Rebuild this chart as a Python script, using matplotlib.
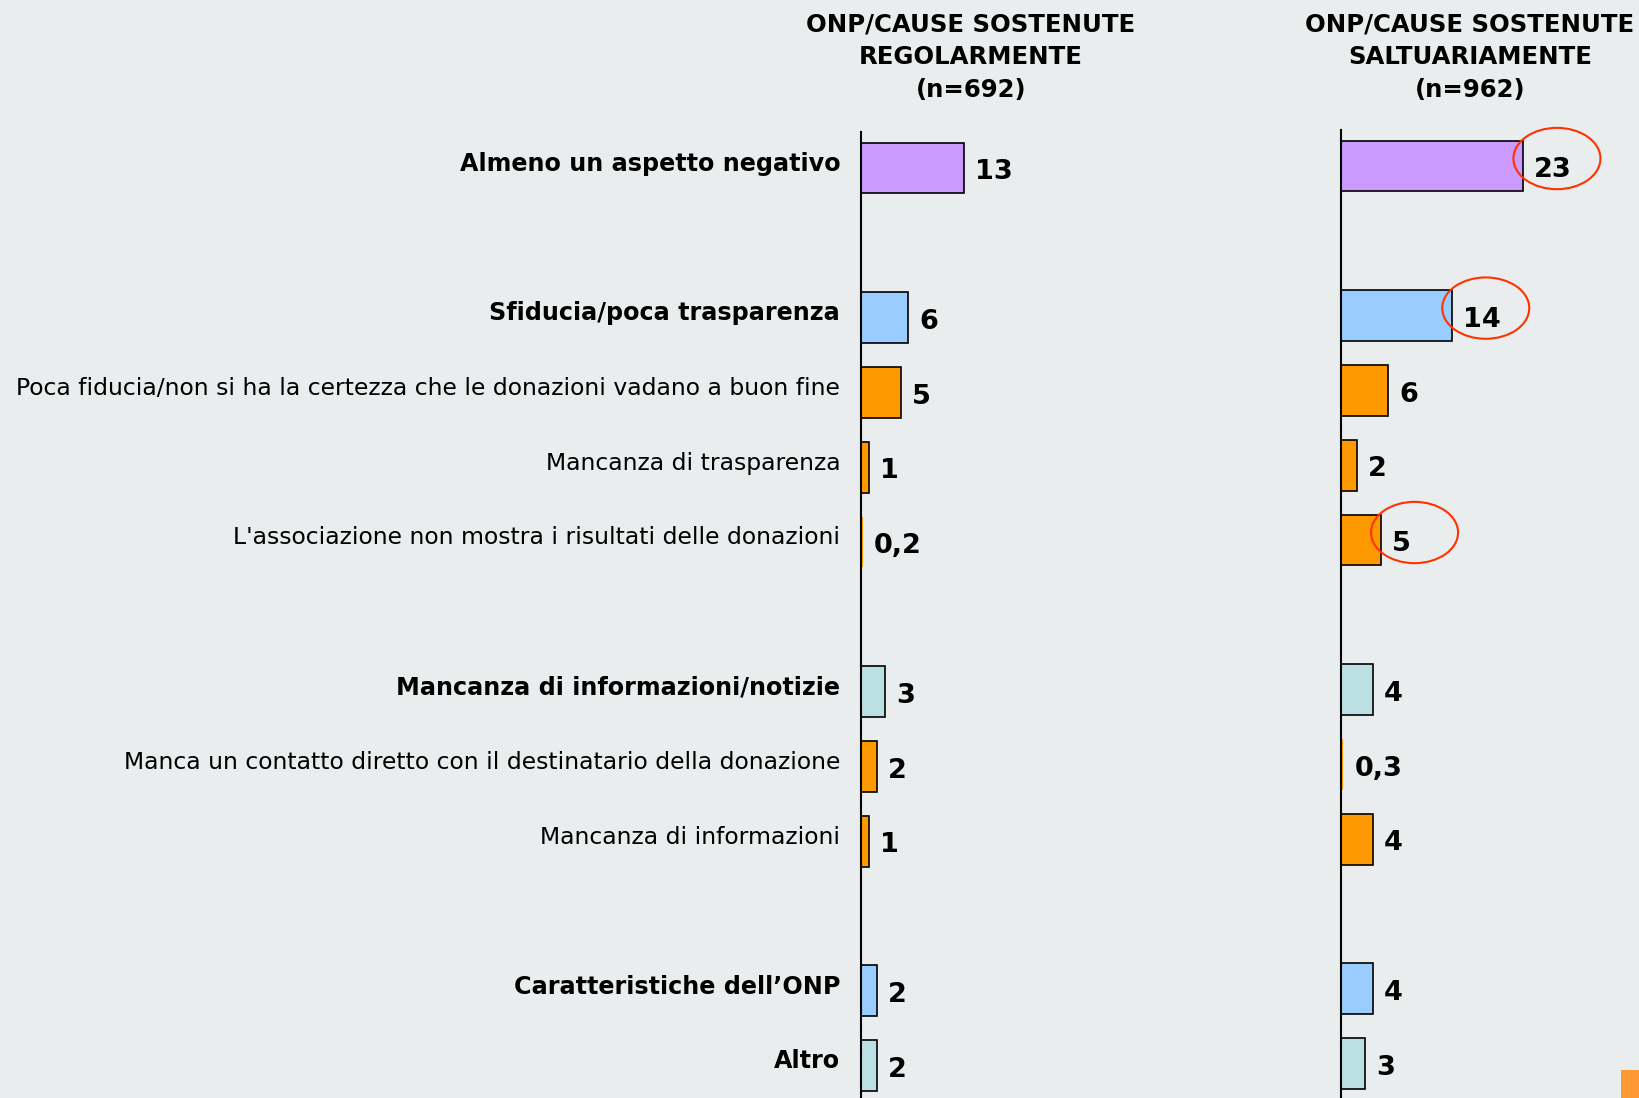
import matplotlib
matplotlib.use("Agg")
import matplotlib.pyplot as plt
from matplotlib.patches import Ellipse, Rectangle

plt.rcParams['font.family'] = ['DejaVu Sans']

# ---------------- data ----------------
categories = [
    "Almeno un aspetto negativo",
    "Sfiducia/poca trasparenza",
    "Poca fiducia/non si ha la certezza che le donazioni vadano a buon fine",
    "Mancanza di trasparenza",
    "L'associazione non mostra i risultati delle donazioni",
    "Mancanza di informazioni/notizie",
    "Manca un contatto diretto con il destinatario della donazione",
    "Mancanza di informazioni",
    "Caratteristiche dell\u2019ONP",
    "Altro",
]
bold_labels = [True, True, False, False, False, True, False, False, True, True]
regolarmente = [13, 6, 5, 1, 0.2, 3, 2, 1, 2, 2]
saltuariamente = [23, 14, 6, 2, 5, 4, 0.3, 4, 4, 3]
title_left = ["ONP/CAUSE SOSTENUTE", "REGOLARMENTE", "(n=692)"]
title_right = ["ONP/CAUSE SOSTENUTE", "SALTUARIAMENTE", "(n=962)"]
highlighted_right = [0, 1, 4]  # circled values in the right panel

# row positions (gaps between groups)
rows = [0, 2, 3, 4, 5, 7, 8, 9, 11, 12]

PURPLE = "#CC99FF"
LBLUE = "#99CCFF"
ORANGE = "#FF9900"
TEAL = "#BBE0E3"
bar_colors = [PURPLE, LBLUE, ORANGE, ORANGE, ORANGE, TEAL, ORANGE, ORANGE, LBLUE, TEAL]

BG = "#E9EDEE"

# ---------------- layout ----------------
W, H = 1640, 1098
fig = plt.figure(figsize=(W / 100, H / 100), dpi=100, facecolor=BG)

px_per_unit = 7.91
row_px = 74.8


def make_axes(x_px, top_px, row0_px, width_px):
    xmax = width_px / px_per_unit
    ax = fig.add_axes([x_px / W, 0, width_px / W, (H - top_px) / H])
    ax.set_facecolor("none")
    ax.set_xlim(0, xmax)
    ytop = (top_px - row0_px) / row_px
    ybot = (H - row0_px) / row_px
    ax.set_ylim(ybot, ytop)
    for s in ["top", "right", "bottom"]:
        ax.spines[s].set_visible(False)
    ax.spines["left"].set_linewidth(1.5)
    ax.spines["left"].set_zorder(5)
    ax.set_xticks([])
    ax.set_yticks([])
    return ax


def fmt(v):
    if float(v).is_integer():
        return str(int(v))
    return str(v).replace(".", ",")


ax1 = make_axes(861, 132, 168, 250)
ax2 = make_axes(1341, 130, 166, W - 1341)

for ax, vals in [(ax1, regolarmente), (ax2, saltuariamente)]:
    edge_w = [1.2 if v >= 0.5 else 0 for v in vals]
    ax.barh(rows, vals, height=0.68, color=bar_colors, edgecolor="black",
            linewidth=edge_w, zorder=3)
    for r, v in zip(rows, vals):
        ax.annotate(fmt(v), xy=(v, r), xytext=(8, -3), textcoords="offset points",
                    ha="left", va="center", fontsize=19.5, fontweight="bold",
                    color="black", zorder=6)

# category labels left of first panel
for r, lab, b in zip(rows, categories, bold_labels):
    ax1.annotate(lab, xy=(0, r), xytext=(-15, 3), textcoords="offset points",
                 ha="right", va="center", fontsize=17.2 if b else 16.9,
                 fontweight="bold" if b else "normal", color="black",
                 annotation_clip=False)

# highlight ellipses in right panel
for i in highlighted_right:
    v = saltuariamente[i]
    e = Ellipse((v + 4.3, rows[i] - 0.1), width=11.0, height=0.82,
                fill=False, edgecolor="#FF3300", linewidth=1.5, zorder=7,
                clip_on=False)
    ax2.add_patch(e)

# panel titles
line_y = [25, 57.5, 90]
for cx, lines in [(971, title_left), (1470, title_right)]:
    for y, t in zip(line_y, lines):
        fig.text(cx / W, 1 - y / H, t, ha="center", va="center",
                 fontsize=17.6, fontweight="bold")

# small orange corner mark
fig.patches.append(Rectangle((1621 / W, 0), 19 / W, 28 / H, transform=fig.transFigure,
                             facecolor="#FF9933", edgecolor="none", zorder=10))

fig.savefig("out.png", dpi=100, facecolor=BG)
